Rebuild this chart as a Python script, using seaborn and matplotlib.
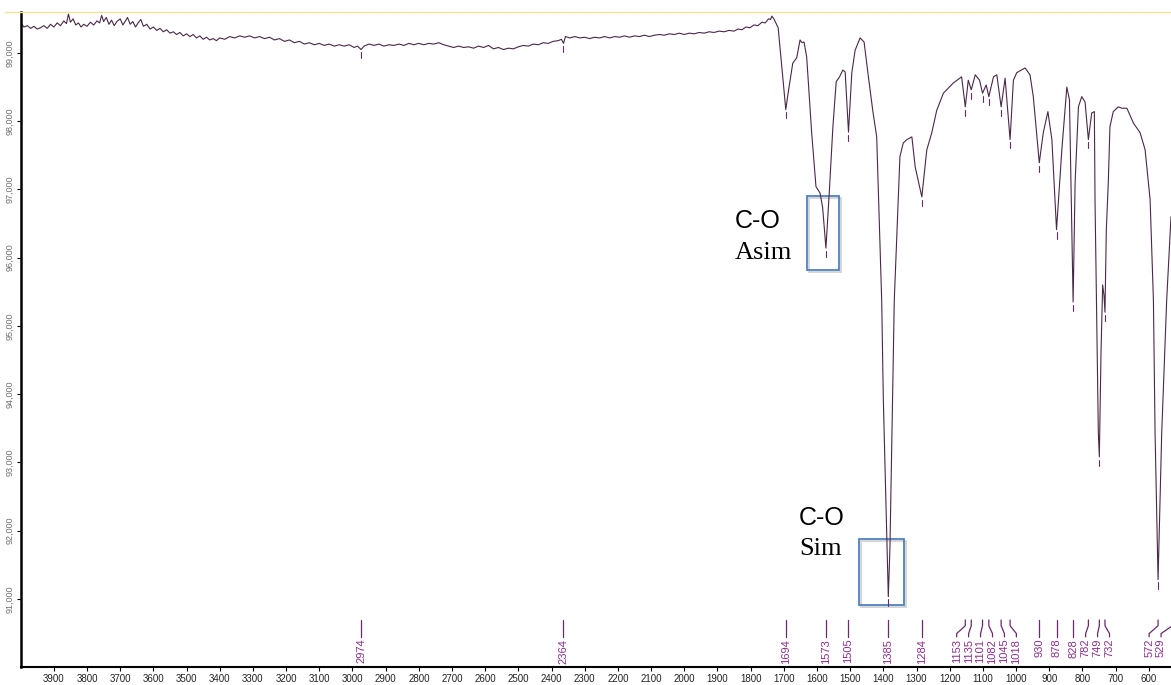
import numpy as np
import pandas as pd
import matplotlib
matplotlib.use("Agg")
import matplotlib.pyplot as plt
import matplotlib.transforms as mtransforms
import matplotlib.patheffects as pe
from matplotlib.patches import Rectangle
from matplotlib.lines import Line2D
import seaborn as sns

# FTIR spectrum: wavenumber (cm-1) and transmittance (%T)
wavenumber = [
    3999, 3990, 3980, 3970, 3960, 3950, 3940, 3930, 3920, 3910, 3900, 3890, 3880, 3870,
    3862, 3856, 3850, 3842, 3834, 3826, 3818, 3810, 3800, 3790, 3780, 3770, 3762, 3756,
    3750, 3742, 3734, 3726, 3718, 3710, 3700, 3692, 3684, 3678, 3670, 3662, 3654, 3646,
    3638, 3630, 3620, 3610, 3600, 3590, 3580, 3570, 3560, 3550, 3540, 3530, 3520, 3510,
    3500, 3490, 3480, 3470, 3460, 3450, 3440, 3430, 3420, 3410, 3400, 3385, 3370, 3355,
    3340, 3325, 3310, 3295, 3280, 3265, 3250, 3235, 3220, 3205, 3190, 3175, 3160, 3145,
    3130, 3115, 3100, 3085, 3070, 3055, 3040, 3025, 3010, 2995, 2985, 2974, 2965, 2950,
    2935, 2920, 2905, 2890, 2875, 2860, 2845, 2830, 2815, 2800, 2785, 2770, 2755, 2740,
    2725, 2710, 2695, 2680, 2665, 2650, 2635, 2620, 2605, 2590, 2575, 2560, 2545, 2530,
    2515, 2500, 2485, 2470, 2455, 2440, 2425, 2410, 2395, 2380, 2370, 2364, 2358, 2345,
    2330, 2315, 2300, 2285, 2270, 2255, 2240, 2225, 2210, 2195, 2180, 2165, 2150, 2135,
    2120, 2105, 2090, 2075, 2060, 2045, 2030, 2015, 2000, 1985, 1970, 1955, 1940, 1925,
    1910, 1895, 1880, 1865, 1850, 1838, 1826, 1814, 1802, 1790, 1778, 1766, 1756, 1746,
    1740, 1736, 1730, 1717, 1706, 1694, 1687, 1673, 1661, 1651, 1645, 1639, 1631, 1616,
    1603, 1591, 1583, 1573, 1563, 1552, 1542, 1532, 1522, 1515, 1505, 1495, 1485, 1470,
    1464, 1458, 1445, 1432, 1420, 1405, 1400, 1390, 1385, 1380, 1374, 1367, 1350, 1340,
    1329, 1314, 1304, 1284, 1269, 1254, 1239, 1219, 1189, 1164, 1153, 1144, 1135, 1123,
    1110, 1101, 1090, 1082, 1068, 1058, 1045, 1033, 1018, 1008, 998, 973, 958, 948,
    930, 918, 904, 892, 878, 862, 847, 839, 828, 822, 812, 802, 792, 782,
    772, 764, 762, 752, 749, 744, 739, 735, 732, 728, 722, 717, 707, 692,
    681, 666, 646, 626, 611, 596, 586, 581, 572, 561, 546, 536, 533, 529,
]
transmittance = [
    99.43, 99.38, 99.40, 99.36, 99.39, 99.35, 99.37, 99.40, 99.36, 99.42, 99.38, 99.44, 99.40, 99.47,
    99.43, 99.57, 99.45, 99.50, 99.41, 99.44, 99.38, 99.42, 99.39, 99.45, 99.41, 99.47, 99.44, 99.55,
    99.46, 99.52, 99.42, 99.48, 99.40, 99.46, 99.50, 99.41, 99.47, 99.52, 99.42, 99.46, 99.38, 99.44,
    99.49, 99.39, 99.42, 99.35, 99.38, 99.33, 99.36, 99.31, 99.34, 99.29, 99.31, 99.27, 99.30, 99.25,
    99.28, 99.24, 99.27, 99.22, 99.25, 99.20, 99.23, 99.19, 99.21, 99.18, 99.22, 99.20, 99.24, 99.22,
    99.25, 99.23, 99.25, 99.22, 99.24, 99.21, 99.23, 99.19, 99.21, 99.17, 99.19, 99.15, 99.17, 99.13,
    99.15, 99.12, 99.14, 99.11, 99.13, 99.10, 99.12, 99.10, 99.12, 99.08, 99.10, 99.05, 99.10, 99.13,
    99.11, 99.13, 99.10, 99.12, 99.11, 99.13, 99.11, 99.14, 99.12, 99.14, 99.12, 99.14, 99.13, 99.15,
    99.12, 99.10, 99.08, 99.10, 99.08, 99.09, 99.07, 99.10, 99.08, 99.11, 99.06, 99.08, 99.05, 99.07,
    99.06, 99.09, 99.11, 99.10, 99.13, 99.12, 99.15, 99.14, 99.17, 99.18, 99.20, 99.14, 99.24, 99.22,
    99.24, 99.22, 99.23, 99.21, 99.23, 99.22, 99.24, 99.22, 99.24, 99.23, 99.25, 99.23, 99.25, 99.24,
    99.26, 99.24, 99.26, 99.27, 99.26, 99.28, 99.27, 99.29, 99.27, 99.29, 99.28, 99.30, 99.29, 99.31,
    99.30, 99.32, 99.31, 99.33, 99.32, 99.35, 99.34, 99.38, 99.37, 99.41, 99.40, 99.45, 99.44, 99.50,
    99.49, 99.54, 99.50, 99.37, 98.80, 98.17, 98.41, 98.85, 98.93, 99.19, 99.15, 99.16, 98.94, 97.83,
    97.04, 96.95, 96.74, 96.14, 96.95, 97.92, 98.58, 98.65, 98.75, 98.72, 97.84, 98.71, 99.04, 99.22,
    99.19, 99.16, 98.65, 98.16, 97.77, 95.38, 93.92, 91.97, 91.03, 91.76, 93.43, 95.38, 97.48, 97.68,
    97.73, 97.77, 97.33, 96.89, 97.58, 97.83, 98.16, 98.41, 98.56, 98.65, 98.21, 98.60, 98.46, 98.68,
    98.60, 98.41, 98.53, 98.36, 98.65, 98.68, 98.21, 98.63, 97.73, 98.60, 98.71, 98.78, 98.68, 98.36,
    97.39, 97.83, 98.14, 97.73, 96.41, 97.58, 98.50, 98.31, 95.35, 97.10, 98.21, 98.36, 98.28, 97.73,
    98.12, 98.14, 96.85, 93.43, 93.08, 94.60, 95.60, 95.45, 95.20, 96.40, 97.10, 97.92, 98.14, 98.21,
    98.19, 98.19, 97.97, 97.83, 97.58, 96.85, 95.38, 93.43, 91.28, 93.43, 95.38, 96.33, 96.60, 96.20,
]

# Labelled band positions (cm-1)
peak_wn = [2974, 2364, 1694, 1573, 1505, 1385, 1284, 1153, 1135, 1101, 1082,
           1045, 1018, 930, 878, 828, 782, 749, 732, 572, 529]

x_ticks = list(range(3900, 599, -100))
y_ticks = [91, 92, 93, 94, 95, 96, 97, 98, 99]

LINE = "#4a2848"
PEAK_TXT = "#8a2f8a"
PEAK_LINE = "#6a2a6a"
BOX = "#4f81bd"

sns.set_theme(style="white")
plt.rcParams["font.family"] = ["Liberation Sans", "DejaVu Sans"]

W, H = 1171, 685
fig = plt.figure(figsize=(W / 100, H / 100), dpi=100)
ax = fig.add_axes([21 / W, 18 / H, 1 - 21 / W, (667 - 12) / H])

df = pd.DataFrame({"wn": wavenumber, "T": transmittance})
sns.lineplot(data=df, x="wn", y="T", ax=ax, color=LINE, linewidth=0.8,
             estimator=None, sort=False)

ax.set_xlim(3999, 533)
ax.set_ylim(90.0, 99.6)
ax.set_xlabel("")
ax.set_ylabel("")

# axes styling
for side in ("top", "right"):
    ax.spines[side].set_visible(False)
ax.spines["left"].set_linewidth(1.8)
ax.spines["left"].set_color("black")
ax.spines["bottom"].set_linewidth(1.5)
ax.spines["bottom"].set_color("black")

ax.set_xticks(x_ticks)
ax.set_xticklabels([str(v) for v in x_ticks], fontsize=7)
ax.set_yticks(y_ticks)
ax.set_yticklabels([f"{v:.3f}".replace(".", ",") for v in y_ticks],
                   rotation=90, va="center", fontsize=6.5)
ax.tick_params(axis="both", bottom=True, left=True, direction="out",
               length=3, width=0.8, pad=2, colors="black")
for lab in ax.get_yticklabels():
    lab.set_color("#707070")
for lab in ax.get_xticklabels():
    lab.set_color("#222222")

# thin yellow frame line along the top
fig.add_artist(Line2D([0.004, 1.0], [1 - 12 / H, 1 - 12 / H],
                      color="#efe39a", linewidth=1.0))

# small dash under each labelled minimum
wn_asc = np.array(wavenumber[::-1], dtype=float)
t_asc = np.array(transmittance[::-1], dtype=float)
for p in peak_wn:
    t = np.interp(p, wn_asc, t_asc)
    ax.plot([p, p], [t - 0.04, t - 0.13], color=PEAK_LINE, linewidth=0.8)

# peak labels along the bottom, spread apart where crowded
u = np.sort(-np.array(peak_wn, dtype=float))
d_min = 36.0
u_max = -563.0
for _ in range(600):
    for i in range(len(u) - 1):
        gap = u[i + 1] - u[i]
        if gap < d_min:
            s = (d_min - gap) / 2
            u[i] -= s
            u[i + 1] += s
    if u[-1] > u_max:
        u[-1] = u_max
for i in range(len(u) - 2, -1, -1):
    u[i] = min(u[i], u[i + 1] - d_min)
orig = np.sort(-np.array(peak_wn, dtype=float))
label_pos = dict(zip((-orig).astype(int), -u))

trans = mtransforms.blended_transform_factory(ax.transData, ax.transAxes)
for p in peak_wn:
    lx = label_pos[p]
    ax.plot([p, p, lx, lx], [0.0718, 0.063, 0.051, 0.046], transform=trans,
            color=PEAK_LINE, linewidth=0.9, clip_on=False)
    ax.text(lx, 0.043, str(p), transform=trans, rotation=90, ha="center",
            va="top", fontsize=8, color=PEAK_TXT, clip_on=False)

# band assignment boxes with a soft drop shadow on the outline
shadow = [pe.SimpleLineShadow(offset=(1.5, -1.5), shadow_color="gray",
                              alpha=0.35), pe.Normal()]
ax.add_patch(Rectangle((1630.7, 95.82), 1534.3 - 1630.7, 96.909 - 95.82,
                       fill=False, edgecolor=BOX, linewidth=1.3,
                       path_effects=shadow))
ax.add_patch(Rectangle((1473.1, 90.912), 1337.5 - 1473.1, 91.879 - 90.912,
                       fill=False, edgecolor=BOX, linewidth=1.3,
                       path_effects=shadow))

ax.text(1847, 96.436, "C-O", ha="left", va="baseline", fontsize=18,
        family=["Liberation Sans", "DejaVu Sans"], color="black")
ax.text(1847, 95.982, "Asim", ha="left", va="baseline", fontsize=19,
        family=["Liberation Serif", "DejaVu Serif"], color="black")
ax.text(1654, 92.084, "C-O", ha="left", va="baseline", fontsize=18,
        family=["Liberation Sans", "DejaVu Sans"], color="black")
ax.text(1654, 91.645, "Sim", ha="left", va="baseline", fontsize=19,
        family=["Liberation Serif", "DejaVu Serif"], color="black")

fig.savefig("out.png", dpi=100)
